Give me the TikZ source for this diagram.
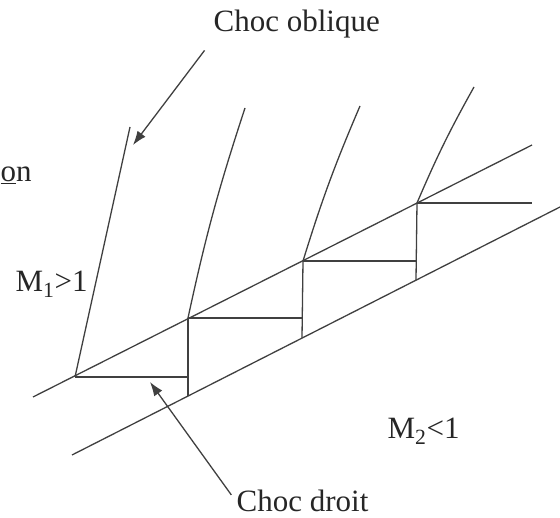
\documentclass[tikz,border=0pt]{standalone}
\usepackage{fontspec}
\setmainfont{Liberation Serif}
\usetikzlibrary{arrows.meta}

\begin{document}
\begin{tikzpicture}[x=1pt,y=1pt,line width=1.3pt,draw=black!75,
  lab/.style={font=\fontsize{31}{36}\selectfont,text=black!85,inner sep=0pt},
  pointer/.style={-{Latex[length=14pt,width=10pt]}}]
\useasboundingbox (0,0) rectangle (560,-518);
% Walls
\coordinate (u0) at (33,-397);
\coordinate (u5) at (532,-145);
\coordinate (w0) at (72,-455);
\coordinate (w5) at (560,-207);
% Shock points on the upper wall
\coordinate (p1) at (75,-377);
\coordinate (p2) at (188,-318);
\coordinate (p3) at (303,-261);
\coordinate (p4) at (417,-203);
% Foot points on the lower wall
\coordinate (l2) at (188,-396);
\coordinate (l3) at (302,-338);
\coordinate (l4) at (416,-280);
% Ends of the oblique shocks
\coordinate (t1) at (130,-127);
\coordinate (t2) at (245,-108);
\coordinate (t3) at (360,-106);
\coordinate (t4) at (474,-87);
% Arrow tips
\coordinate (obltip) at (133,-145);
\coordinate (drtip) at (150,-382);

% Labels
\node[lab, anchor=base west] (oblique) at (213,-32) {Choc oblique};
\node[lab, anchor=base west] (droit) at (236,-512) {Choc droit};
\node[lab, anchor=base west] (mone) at (15,-292) {M\textsubscript{1}>1};
\node[lab, anchor=base west] (mtwo) at (387,-439) {M\textsubscript{2}<1};
\node[lab, anchor=base west] (cut) at (0,-182) {\underline{o}n};

% Walls
\draw (u0) -- (u5);
\draw (w0) -- (w5);

% Oblique shocks
\draw (p1) -- (t1);
\draw (p2) to[bend left=3] (t2);
\draw (p3) to[bend left=3] (t3);
\draw (p4) to[bend left=3] (t4);

% Normal shocks
\draw (p1) -- (p1 -| p2);
\draw (p2) -- (l2);
\draw (p2) -- (p2 -| l3);
\draw (p3) -- (l3);
\draw (p3) -- (p3 -| l4);
\draw (p4) -- (l4);
\draw (p4) -- (p4 -| u5);

% Arrows
\draw[pointer, shorten <=14pt] (oblique.south west) -- (obltip);
\draw[pointer, shorten <=8pt] (droit.west) -- (drtip);
\end{tikzpicture}
\end{document}
